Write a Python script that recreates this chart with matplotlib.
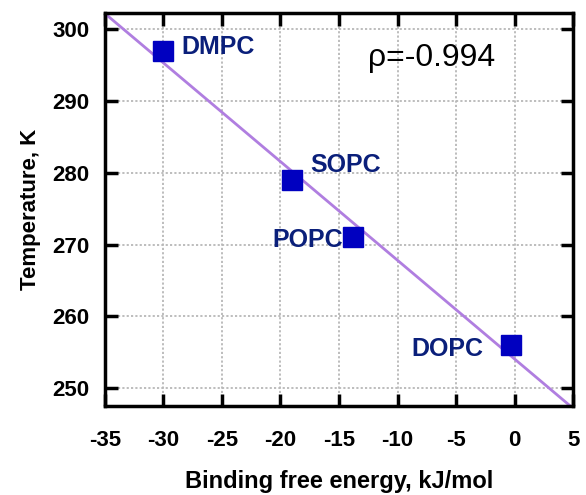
import matplotlib.pyplot as plt
import numpy as np

# data
lipids = ["DMPC", "SOPC", "POPC", "DOPC"]
binding_energy = [-30.0, -19.0, -13.8, -0.3]   # kJ/mol
temperature = [297, 279, 271, 256]             # K
rho_text = "ρ=-0.994"

xticks = [-35, -30, -25, -20, -15, -10, -5, 0, 5]
yticks = [250, 260, 270, 280, 290, 300]


def main():
    plt.rcParams['font.family'] = ['Liberation Sans', 'DejaVu Sans']
    plt.rcParams['axes.unicode_minus'] = False
    fig, ax = plt.subplots(figsize=(5.86, 4.95), dpi=100)
    fig.subplots_adjust(left=0.179, right=0.978, top=0.974, bottom=0.18)

    x = np.array(binding_energy)
    y = np.array(temperature)

    # linear fit
    k, b = np.polyfit(x, y, 1)
    xl = np.array([-35, 5])
    ax.plot(xl, k * xl + b, color="#b07ee0", lw=2, zorder=2)

    ax.plot(x, y, "s", color="#0000c0", ms=14, zorder=3)

    # labels next to points
    offsets = {"DMPC": (13, 3, "left"), "SOPC": (13, 11, "left"),
               "POPC": (-7, -2, "right"), "DOPC": (-20, -3, "right")}
    for name, xi, yi in zip(lipids, x, y):
        dx, dy, ha = offsets[name]
        ax.annotate(name, (xi, yi), xytext=(dx, dy), textcoords="offset points",
                    ha=ha, va="center", fontsize=18, fontweight="bold",
                    color="#0a1f7a")

    ax.text(0.697, 0.885, rho_text, transform=ax.transAxes, ha="center",
            va="center", fontsize=23, color="black")

    ax.set_xlim(-35, 5)
    ax.set_ylim(247.5, 302.3)
    ax.set_xticks(xticks)
    ax.set_yticks(yticks)
    ax.grid(True, color="#b8b8b8", linestyle=(0, (1.2, 1.2)), lw=1.3)
    ax.tick_params(direction="in", length=9, width=2.5, top=True, right=True,
                   labelsize=16)
    ax.tick_params(axis="x", pad=17)
    ax.tick_params(axis="y", pad=11)
    for lab in ax.get_xticklabels() + ax.get_yticklabels():
        lab.set_fontweight("bold")
    for s in ax.spines.values():
        s.set_linewidth(2.5)

    ax.set_xlabel("Binding free energy, kJ/mol", fontsize=17,
                  fontweight="bold", labelpad=14)
    ax.set_ylabel("Temperature, K", fontsize=16, fontweight="bold",
                  labelpad=8)

    fig.savefig("out.png", dpi=100)


if __name__ == "__main__":
    main()
